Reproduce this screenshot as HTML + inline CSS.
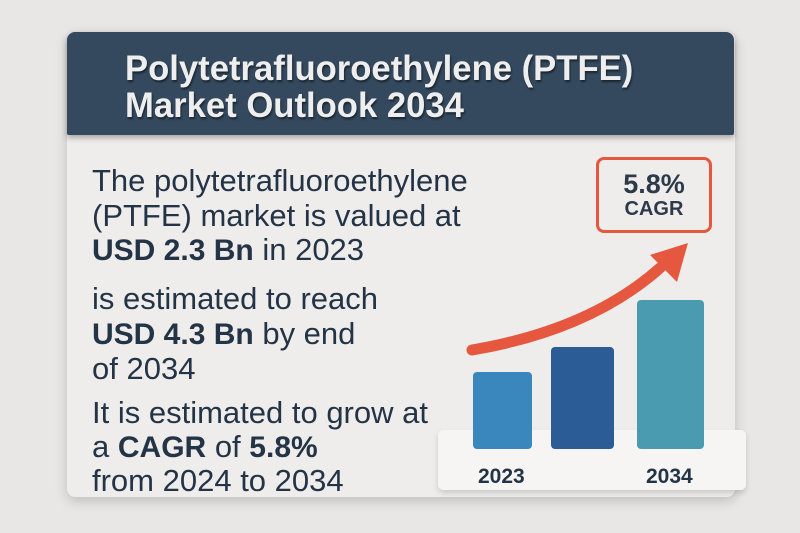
<!DOCTYPE html><html><head><style>
body{margin:0;width:800px;height:533px;background:#e9e7e5;font-family:"Liberation Sans",sans-serif;position:relative;overflow:hidden}
.card{position:absolute;left:67px;top:32px;width:668px;height:465px;background:#efedeb;border-radius:8px;box-shadow:0 4px 12px rgba(0,0,0,.18)}
.hdr{position:absolute;left:67px;top:32px;width:667px;height:103px;background:#34495e;border-radius:8px 8px 2px 2px;box-shadow:0 3px 6px rgba(0,0,0,.3)}
.hdr div{position:absolute;left:58px;color:#eee;font-size:35px;line-height:38px;font-weight:bold;text-shadow:1px 2px 2px rgba(0,0,0,.5);white-space:nowrap;transform:scaleX(0.99);transform-origin:0 0}
.t{position:absolute;left:92px;color:#243447;font-size:31px;white-space:nowrap}
.b{font-weight:bold;font-size:30px}
.bar{position:absolute;border-radius:4px}
</style></head><body>
<div class="card"></div>
<div class="hdr"><div style="top:18px">Polytetrafluoroethylene (PTFE)</div><div style="top:55px">Market Outlook 2034</div></div>
<div class="t" style="top:163px">The polytetrafluoroethylene</div>
<div class="t" style="top:198px">(PTFE) market is valued at</div>
<div class="t" style="top:232px"><span class="b">USD 2.3 Bn</span> in 2023</div>
<div class="t" style="top:281px">is estimated to reach</div>
<div class="t" style="top:316px"><span class="b">USD 4.3 Bn</span> by end</div>
<div class="t" style="top:351px">of 2034</div>
<div class="t" style="top:395px">It is estimated to grow at</div>
<div class="t" style="top:429px">a <span class="b">CAGR</span> of <span class="b">5.8%</span></div>
<div class="t" style="top:463px">from 2024 to 2034</div>
<div style="position:absolute;left:438px;top:430px;width:308px;height:60px;background:#f6f5f3;border-radius:5px;box-shadow:0 3px 6px rgba(0,0,0,.15)"></div>
<div class="bar" style="left:473px;top:372px;width:59px;height:77px;background:#3a87bd"></div>
<div class="bar" style="left:551px;top:347px;width:63px;height:102px;background:#2b5c96"></div>
<div class="bar" style="left:637px;top:300px;width:67px;height:149px;background:#4a9bb0"></div>
<div style="position:absolute;left:478px;top:465px;font-size:21px;font-weight:bold;color:#243447">2023</div>
<div style="position:absolute;left:646px;top:465px;font-size:21px;font-weight:bold;color:#243447">2034</div>
<svg style="position:absolute;left:0;top:0" width="800" height="533">
<path d="M472 350 Q590 330 660 268" stroke="#e5583f" stroke-width="11" fill="none" stroke-linecap="round"/>
<polygon points="688,243 650,255 677,282" fill="#e5583f"/>
</svg>
<div style="position:absolute;left:596px;top:157px;width:110px;height:70px;border:3px solid #e5583f;border-radius:8px;background:#efedeb;text-align:center;color:#2d3a4a;font-weight:bold">
<div style="font-size:27px;margin-top:10px;line-height:29px">5.8%</div><div style="font-size:20px;line-height:21px">CAGR</div></div>
</body></html>
